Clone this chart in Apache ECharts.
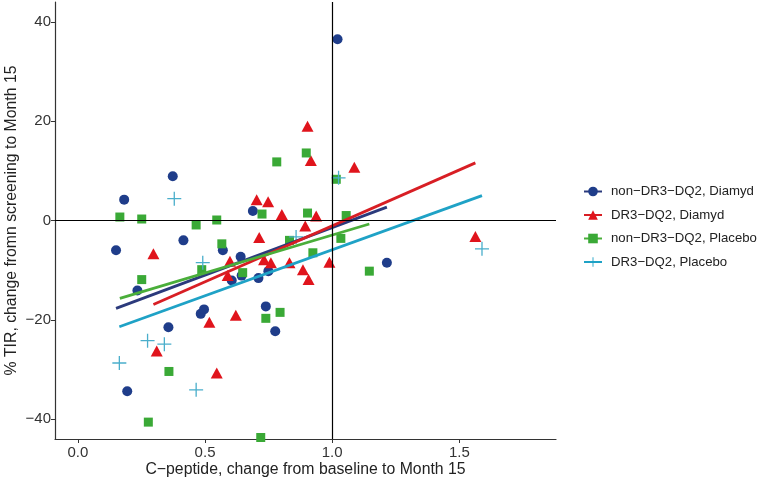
<!DOCTYPE html>
<html>
<head>
<meta charset="utf-8">
<script src="https://cdn.jsdelivr.net/npm/echarts@6/dist/echarts.min.js"></script>
<style>html,body{margin:0;padding:0;background:#fff;}#c{width:760px;height:484px;}</style>
</head>
<body>
<div id="c"></div>
<script>
// ---- data (x = C-peptide change, y = %TIR change) ----
const groupNames = ["non\u2212DR3\u2212DQ2, Diamyd", "DR3\u2212DQ2, Diamyd", "non\u2212DR3\u2212DQ2, Placebo", "DR3\u2212DQ2, Placebo"];

const nonDR3Diamyd = [[0.150,-6.0],[0.182,4.2],[0.194,-34.4],[0.234,-14.1],[0.356,-21.5],[0.373,8.9],[0.415,-4.0],[0.483,-18.8],[0.496,-17.9],[0.570,-6.0],[0.605,-12.1],[0.640,-7.3],[0.644,-11.1],[0.688,1.9],[0.710,-11.6],[0.739,-17.3],[0.749,-10.2],[0.776,-22.3],[1.021,36.5],[1.215,-8.5]];
const dr3Diamyd = [[0.297,-6.7],[0.310,-26.3],[0.517,-20.5],[0.546,-30.7],[0.589,-11.1],[0.598,-8.2],[0.621,-19.1],[0.703,4.2],[0.713,-3.4],[0.732,-7.9],[0.748,3.8],[0.759,-8.5],[0.802,1.2],[0.832,-8.5],[0.885,-9.9],[0.894,-1.1],[0.903,19.0],[0.907,-11.9],[0.916,12.1],[0.937,0.9],[0.989,-8.4],[1.087,10.7],[1.563,-3.2]];
const nonDR3Placebo = [[0.165,0.7],[0.251,0.3],[0.251,-11.9],[0.277,-40.6],[0.358,-30.4],[0.465,-0.9],[0.487,-9.9],[0.546,0.1],[0.566,-4.7],[0.648,-10.5],[0.719,-43.7],[0.724,1.3],[0.739,-19.7],[0.782,11.8],[0.795,-18.5],[0.832,-4.0],[0.898,13.6],[0.903,1.5],[0.924,-6.5],[1.016,8.3],[1.034,-3.6],[1.055,1.0],[1.146,-10.2]];
const dr3Placebo = [[0.163,-28.7],[0.274,-24.2],[0.340,-24.9],[0.379,4.4],[0.465,-34.1],[0.491,-8.5],[0.858,-3.3],[1.025,8.6],[1.589,-5.7]];

// fitted regression lines (endpoints)
const fitNonDR3Diamyd = [[0.150,-17.7],[1.215,2.7]];
const fitDR3Diamyd = [[0.297,-16.9],[1.563,11.6]];
const fitNonDR3Placebo = [[0.165,-15.7],[1.146,-0.7]];
const fitDR3Placebo = [[0.163,-21.4],[1.589,5.0]];

const xTicks = [0, 0.5, 1.0, 1.5];
const yTicks = [-40, -20, 0, 20, 40];
// ----------------------------------------------

const plusPath = 'path://M0,6.35H14V7.65H0Z M6.35,0H7.65V14H6.35Z';
const styles = [
  {pts: nonDR3Diamyd, fit: fitNonDR3Diamyd, symbol: 'circle', size: 10, color: '#1f3d8a', lineColor: '#2b3a7c'},
  {pts: dr3Diamyd, fit: fitDR3Diamyd, symbol: 'triangle', size: [12, 11], color: '#e0141c', lineColor: '#d81e24'},
  {pts: nonDR3Placebo, fit: fitNonDR3Placebo, symbol: 'rect', size: 9, color: '#3aa936', lineColor: '#4aae3a'},
  {pts: dr3Placebo, fit: fitDR3Placebo, symbol: plusPath, size: 14, color: '#4aaecb', lineColor: '#1fa2c6'}
];

const FONT = 'Liberation Sans, Arial, Helvetica, sans-serif';
const series = [];
styles.forEach((s, i) => {
  series.push({
    type: 'line', name: groupNames[i], data: s.fit, z: 4,
    symbol: s.symbol, symbolSize: s.size, showSymbol: false,
    lineStyle: {color: s.lineColor, width: 2.8},
    itemStyle: {color: i === 3 ? s.lineColor : s.color},
    silent: true, animation: false
  });
});
styles.forEach((s, i) => {
  const ser = {
    type: 'scatter', name: groupNames[i], data: s.pts, z: 3,
    symbol: s.symbol, symbolSize: s.size,
    itemStyle: {color: s.color, opacity: 1},
    silent: true, animation: false
  };
  if (i === 0) {
    ser.markLine = {
      silent: true, symbol: 'none', animation: false,
      label: {show: false},
      lineStyle: {color: '#000', width: 1.2, type: 'solid'},
      data: [{xAxis: 1}, {yAxis: 0}]
    };
  }
  series.push(ser);
});

const chart = echarts.init(document.getElementById('c'), null, {renderer: 'canvas'});
chart.setOption({
  animation: false,
  backgroundColor: '#fff',
  grid: {left: 55, right: 204, top: 2, bottom: 45, containLabel: false, outerBoundsMode: 'none'},
  legend: {
    data: groupNames,
    orient: 'vertical', left: 578, top: 180,
    itemWidth: 18, itemHeight: 12, itemGap: 10.5,
    textStyle: {fontFamily: FONT, fontSize: 13.2, color: '#222', padding: [0, 0, 0, 4]},
    selectedMode: false
  },
  xAxis: {
    type: 'value', min: -0.09, max: 1.88,
    name: 'C\u2212peptide, change from baseline to Month 15',
    nameLocation: 'middle', nameGap: 23, nameMoveOverlap: false,
    nameTextStyle: {fontFamily: FONT, fontSize: 15.8, color: '#222'},
    splitLine: {show: false},
    axisLine: {show: true, onZero: false, lineStyle: {color: '#333', width: 1.2}},
    axisTick: {show: true, length: 4, customValues: xTicks, lineStyle: {color: '#333'}},
    axisLabel: {customValues: xTicks, fontFamily: FONT, fontSize: 15, color: '#333', margin: 6,
      formatter: v => v.toFixed(1)}
  },
  yAxis: {
    type: 'value', min: -44, max: 44,
    name: '% TIR, change fromn screening to Month 15',
    nameLocation: 'middle', nameGap: 35, nameMoveOverlap: false,
    nameTextStyle: {fontFamily: FONT, fontSize: 15.8, color: '#222'},
    splitLine: {show: false},
    axisLine: {show: true, onZero: false, lineStyle: {color: '#333', width: 1.2}},
    axisTick: {show: true, length: 4, customValues: yTicks, lineStyle: {color: '#333'}},
    axisLabel: {customValues: yTicks, fontFamily: FONT, fontSize: 15, color: '#333', margin: 4,
      formatter: v => String(v).replace('-', '\u2212')}
  },
  series: series
});
</script>
</body>
</html>
